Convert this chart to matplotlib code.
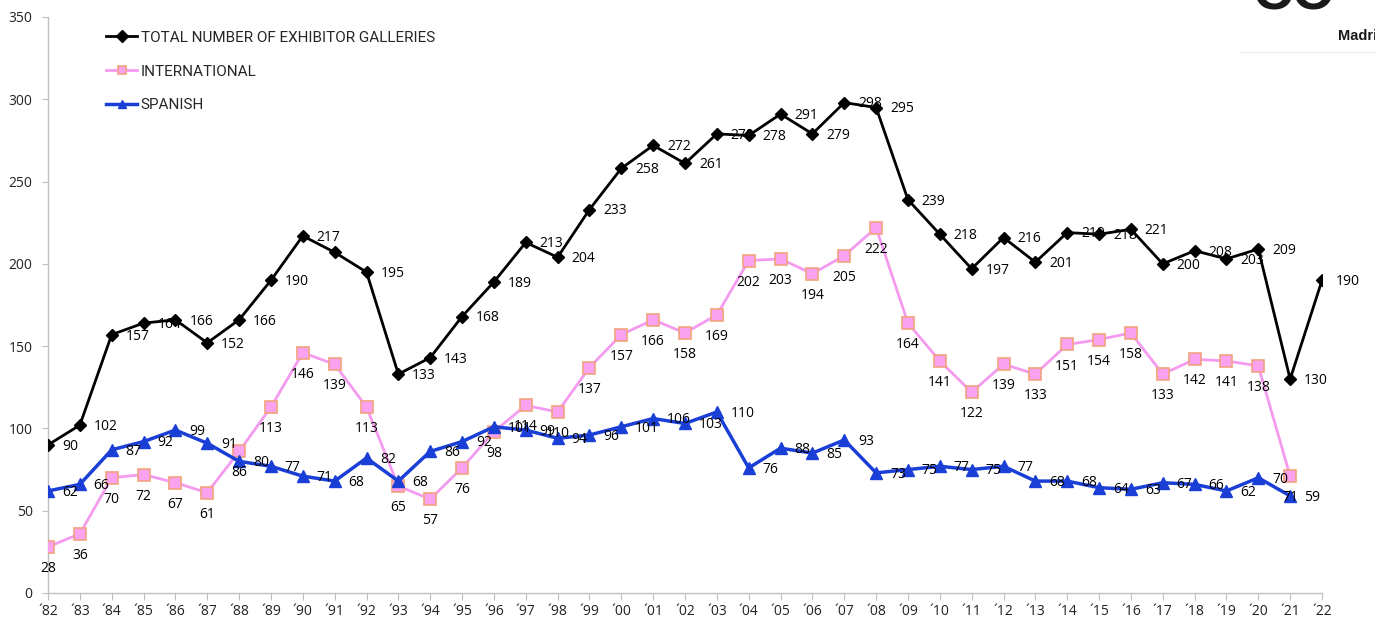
import numpy as np
import matplotlib
matplotlib.use("Agg")
import matplotlib.pyplot as plt
from matplotlib.lines import Line2D

# 数据 (1982-2022)
years = list(range(1982, 2023))
total = [90, 102, 157, 164, 166, 152, 166, 190, 217, 207,
         195, 133, 143, 168, 189, 213, 204, 233, 258, 272,
         261, 279, 278, 291, 279, 298, 295, 239, 218, 197,
         216, 201, 219, 218, 221, 200, 208, 203, 209, 130,
         190]
international = [28, 36, 70, 72, 67, 61, 86, 113, 146, 139,
                 113, 65, 57, 76, 98, 114, 110, 137, 157, 166,
                 158, 169, 202, 203, 194, 205, 222, 164, 141, 122,
                 139, 133, 151, 154, 158, 133, 142, 141, 138, 71]
spanish = [62, 66, 87, 92, 99, 91, 80, 77, 71, 68,
           82, 68, 86, 92, 101, 99, 94, 96, 101, 106,
           103, 110, 76, 88, 85, 93, 73, 75, 77, 75,
           77, 68, 68, 64, 63, 67, 66, 62, 70, 59]
total_no_label = [1991]
tick_labels = ["\u00b4%02d" % (y % 100) for y in years]
series_names = ["TOTAL NUMBER OF EXHIBITOR GALLERIES", "INTERNATIONAL", "SPANISH"]

label_font = "Open Sans"
legend_font = "Roboto"

fig = plt.figure(figsize=(13.75, 6.21), dpi=100)
ax = fig.add_axes([48 / 1375, 28 / 621, (1322 - 48) / 1375, (593 - 17) / 621])

x_tot = np.arange(len(total))
x_int = np.arange(len(international))
x_spa = np.arange(len(spanish))

ax.plot(x_tot, total, color="black", lw=2, marker="D", ms=6,
        mfc="black", mec="black", label=series_names[0], zorder=4)
ax.plot(x_int, international, color="#F59BEF", lw=2, marker="s", ms=9,
        mfc="#F9A2F0", mec="#F2A27E", mew=1.2, label=series_names[1], zorder=3)
ax.plot(x_spa, spanish, color="#1A3FD6", lw=2.5, marker="^", ms=8,
        mfc="#1A3FD6", mec="#1A3FD6", label=series_names[2], zorder=5)

# 数据标签
for i, v in enumerate(total):
    if years[i] in total_no_label:
        continue
    ax.annotate(str(v), (i, v), xytext=(10, -1), textcoords="offset points",
                ha="left", va="center", fontsize=10, family=label_font, zorder=6)
for i, v in enumerate(international):
    ax.annotate(str(v), (i, v), xytext=(0, -15.5), textcoords="offset points",
                ha="center", va="center", fontsize=10, family=label_font, zorder=6)
for i, v in enumerate(spanish):
    ax.annotate(str(v), (i, v), xytext=(10, -1), textcoords="offset points",
                ha="left", va="center", fontsize=10, family=label_font, zorder=6)

ax.set_xlim(0, len(years) - 1)
ax.set_ylim(0, 350)
ax.set_yticks(range(0, 351, 50))
ax.set_xticks(np.arange(len(years)))
ax.set_xticklabels(tick_labels)

for s in ["top", "right"]:
    ax.spines[s].set_visible(False)
for s in ["left", "bottom"]:
    ax.spines[s].set_color("#BFBFBF")
    ax.spines[s].set_linewidth(1)
ax.tick_params(axis="y", length=4, color="#BFBFBF", pad=7, labelsize=10)
ax.tick_params(axis="x", length=5, color="#BFBFBF", pad=3, labelsize=10)
for t in ax.get_xticklabels() + ax.get_yticklabels():
    t.set_family(label_font)
    t.set_color("#222222")

leg = ax.legend(loc="upper left", bbox_to_anchor=(0.035, 1.0), frameon=False,
                prop={"family": legend_font, "size": 11},
                handlelength=2.0, handletextpad=0.25, labelspacing=1.3)
for h in leg.legend_handles:
    h.set_markersize(6)
for t in leg.get_texts():
    t.set_color("#262626")

# 右上角的 logo 残片
fig.text(1253 / 1375, 1 - 21 / 621, "CO", fontsize=40, fontweight="bold",
         family="Liberation Sans", color="#1a1a1a", ha="left", va="bottom")
fig.text(1338 / 1375, 1 - 36 / 621, "Madrid", fontsize=10.5, fontweight="bold",
         family="Liberation Sans", color="#1a1a1a", ha="left", va="center")
fig.add_artist(Line2D([1240 / 1375, 1.0], [1 - 52 / 621, 1 - 52 / 621],
                      transform=fig.transFigure, color="#EEEEEE", lw=1))

fig.savefig("out.png", dpi=100)
